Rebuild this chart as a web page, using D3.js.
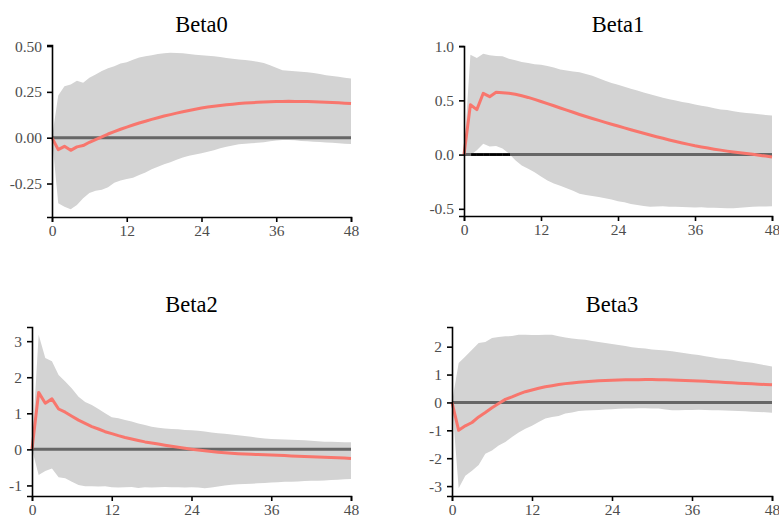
<!DOCTYPE html>
<html>
<head>
<meta charset="utf-8">
<script src="https://cdn.jsdelivr.net/npm/d3@7"></script>
<style>
  body { margin: 0; background: #fff; }
  text { font-family: "Liberation Serif", "Times New Roman", serif; }
</style>
</head>
<body>
<svg width="779" height="516"></svg>
<script>
// impulse responses, horizon 0..48
var horizon = d3.range(0, 49)
var xTicks = [0, 12, 24, 36, 48]

var beta0Mean = [0, -0.065, -0.047, -0.069, -0.05, -0.043, -0.025, -0.01, 0.005, 0.02,
  0.033, 0.046, 0.058, 0.069, 0.08, 0.09, 0.1, 0.109, 0.118, 0.126,
  0.134, 0.141, 0.148, 0.155, 0.162, 0.167, 0.172, 0.176, 0.18, 0.183,
  0.186, 0.189, 0.191, 0.193, 0.195, 0.196, 0.197, 0.198, 0.199, 0.198,
  0.198, 0.197, 0.196, 0.195, 0.194, 0.192, 0.19, 0.188, 0.186]
var beta0Upper = [0, 0.23, 0.28, 0.29, 0.31, 0.3, 0.327, 0.345, 0.364, 0.379,
  0.39, 0.405, 0.412, 0.425, 0.438, 0.444, 0.45, 0.457, 0.46, 0.463,
  0.462, 0.46, 0.457, 0.453, 0.45, 0.447, 0.444, 0.44, 0.435, 0.431,
  0.427, 0.424, 0.42, 0.414, 0.407, 0.395, 0.382, 0.368, 0.365, 0.363,
  0.36, 0.357, 0.353, 0.347, 0.341, 0.337, 0.332, 0.327, 0.323]
var beta0Lower = [0, -0.358, -0.377, -0.39, -0.367, -0.33, -0.302, -0.289, -0.284, -0.27,
  -0.246, -0.233, -0.226, -0.218, -0.203, -0.19, -0.172, -0.159, -0.145, -0.134,
  -0.121, -0.108, -0.098, -0.092, -0.085, -0.077, -0.068, -0.058, -0.05, -0.042,
  -0.036, -0.033, -0.03, -0.028, -0.025, -0.02, -0.016, -0.013, -0.012, -0.014,
  -0.018, -0.02, -0.022, -0.024, -0.026, -0.028, -0.03, -0.033, -0.035]
var beta0Ticks = [-0.25, 0, 0.25, 0.5]
var beta0Labels = ["-0.25", "0.00", "0.25", "0.50"]

var beta1Mean = [0, 0.46, 0.415, 0.565, 0.534, 0.575, 0.57, 0.565, 0.556, 0.542,
  0.527, 0.509, 0.49, 0.47, 0.45, 0.43, 0.41, 0.39, 0.37, 0.351,
  0.333, 0.315, 0.297, 0.28, 0.263, 0.246, 0.229, 0.213, 0.197, 0.181,
  0.165, 0.15, 0.135, 0.121, 0.107, 0.094, 0.081, 0.07, 0.06, 0.05,
  0.041, 0.032, 0.024, 0.017, 0.01, 0.003, -0.006, -0.014, -0.022]
var beta1Upper = [0, 0.92, 0.89, 0.93, 0.915, 0.91, 0.906, 0.884, 0.87, 0.853,
  0.844, 0.834, 0.828, 0.816, 0.803, 0.784, 0.775, 0.766, 0.76, 0.744,
  0.728, 0.703, 0.681, 0.66, 0.644, 0.625, 0.607, 0.59, 0.572, 0.557,
  0.541, 0.525, 0.51, 0.498, 0.486, 0.475, 0.463, 0.45, 0.44, 0.428,
  0.416, 0.41, 0.4, 0.39, 0.384, 0.378, 0.372, 0.366, 0.36]
var beta1Lower = [0, -0.005, 0.04, 0.1, 0.075, 0.08, 0.055, 0.01, -0.053, -0.1,
  -0.131, -0.163, -0.203, -0.24, -0.266, -0.288, -0.31, -0.334, -0.36, -0.372,
  -0.381, -0.39, -0.403, -0.413, -0.43, -0.44, -0.455, -0.465, -0.475, -0.48,
  -0.478, -0.476, -0.48, -0.482, -0.483, -0.485, -0.487, -0.485, -0.49, -0.49,
  -0.492, -0.495, -0.495, -0.49, -0.485, -0.48, -0.478, -0.478, -0.476]
var beta1Ticks = [-0.5, 0, 0.5, 1]
var beta1Labels = ["-0.5", "0.0", "0.5", "1.0"]

var beta2Mean = [0, 1.58, 1.28, 1.4, 1.12, 1.03, 0.92, 0.81, 0.72, 0.63,
  0.565, 0.49, 0.435, 0.38, 0.33, 0.287, 0.245, 0.207, 0.176, 0.148,
  0.115, 0.085, 0.058, 0.03, 0.005, -0.018, -0.04, -0.062, -0.08, -0.095,
  -0.108, -0.12, -0.13, -0.138, -0.145, -0.151, -0.157, -0.165, -0.173, -0.181,
  -0.19, -0.197, -0.204, -0.211, -0.218, -0.226, -0.234, -0.242, -0.25]
var beta2Upper = [0, 3.18, 2.53, 2.44, 2.06, 1.88, 1.69, 1.46, 1.31, 1.23,
  1.12, 1.0, 0.89, 0.86, 0.815, 0.77, 0.72, 0.676, 0.63, 0.6,
  0.58, 0.565, 0.556, 0.537, 0.53, 0.515, 0.495, 0.47, 0.444, 0.43,
  0.41, 0.39, 0.37, 0.35, 0.32, 0.3, 0.287, 0.28, 0.272, 0.265,
  0.26, 0.25, 0.24, 0.225, 0.213, 0.208, 0.203, 0.198, 0.194]
var beta2Lower = [0, -0.71, -0.6, -0.53, -0.77, -0.8, -0.9, -0.99, -1.02, -1.02,
  -1.03, -1.02, -1.05, -1.06, -1.05, -1.04, -1.07, -1.05, -1.06, -1.05,
  -1.04, -1.05, -1.05, -1.06, -1.05, -1.06, -1.08, -1.06, -1.03, -1.0,
  -0.98, -0.97, -0.96, -0.95, -0.94, -0.93, -0.92, -0.91, -0.9, -0.9,
  -0.89, -0.88, -0.87, -0.87, -0.86, -0.85, -0.84, -0.83, -0.82]
var beta2Ticks = [-1, 0, 1, 2, 3]
var beta2Labels = ["-1", "0", "1", "2", "3"]

var beta3Mean = [0, -1.0, -0.84, -0.72, -0.52, -0.36, -0.19, -0.04, 0.11, 0.2,
  0.3, 0.385, 0.446, 0.506, 0.56, 0.6, 0.64, 0.675, 0.7, 0.723,
  0.745, 0.76, 0.775, 0.788, 0.8, 0.805, 0.81, 0.815, 0.818, 0.82,
  0.82, 0.818, 0.815, 0.808, 0.8, 0.79, 0.78, 0.77, 0.76, 0.745,
  0.73, 0.718, 0.705, 0.692, 0.68, 0.668, 0.655, 0.642, 0.63]
var beta3Upper = [0, 1.41, 1.65, 1.89, 2.13, 2.17, 2.31, 2.35, 2.37, 2.38,
  2.43, 2.43, 2.42, 2.42, 2.43, 2.43, 2.37, 2.33, 2.29, 2.27,
  2.25, 2.2, 2.17, 2.13, 2.1, 2.06, 2.02, 1.98, 1.95, 1.93,
  1.9, 1.88, 1.86, 1.84, 1.8, 1.76, 1.73, 1.7, 1.66, 1.62,
  1.58, 1.56, 1.53, 1.49, 1.45, 1.42, 1.38, 1.33, 1.29]
var beta3Lower = [0, -3.08, -2.63, -2.45, -2.24, -1.84, -1.72, -1.54, -1.42, -1.24,
  -1.08, -0.94, -0.84, -0.7, -0.58, -0.52, -0.49, -0.4, -0.36, -0.31,
  -0.29, -0.28, -0.27, -0.25, -0.24, -0.23, -0.22, -0.22, -0.21, -0.21,
  -0.22, -0.22, -0.25, -0.28, -0.28, -0.27, -0.27, -0.26, -0.27, -0.28,
  -0.28, -0.29, -0.3, -0.31, -0.32, -0.33, -0.34, -0.35, -0.37]
var beta3Ticks = [-3, -2, -1, 0, 1, 2]
var beta3Labels = ["-3", "-2", "-1", "0", "1", "2"]

var svg = d3.select("svg")

// panel boxes (plot area in pixels)
var panels = [
  {title: "Beta0", mean: beta0Mean, lower: beta0Lower, upper: beta0Upper, ticks: beta0Ticks, labels: beta0Labels,
    left: 52, right: 351, top: 45, bottom: 217, titleY: 32},
  {title: "Beta1", mean: beta1Mean, lower: beta1Lower, upper: beta1Upper, ticks: beta1Ticks, labels: beta1Labels,
    left: 464, right: 772, top: 46, bottom: 216, titleY: 32},
  {title: "Beta2", mean: beta2Mean, lower: beta2Lower, upper: beta2Upper, ticks: beta2Ticks, labels: beta2Labels,
    left: 32, right: 351, top: 327, bottom: 496, titleY: 312},
  {title: "Beta3", mean: beta3Mean, lower: beta3Lower, upper: beta3Upper, ticks: beta3Ticks, labels: beta3Labels,
    left: 452, right: 772, top: 327, bottom: 496, titleY: 312}
]

panels.forEach(drawPanel)

function drawPanel(p) {
  var x = d3.scaleLinear().domain([0, 48]).range([p.left, p.right])

  // 5% expansion like ggplot
  var lo = d3.min(p.lower), hi = d3.max(p.upper)
  var pad = (hi - lo) * 0.05
  var y = d3.scaleLinear().domain([lo - pad, hi + pad]).range([p.bottom, p.top])

  var g = svg.append("g")

  var area = d3.area()
    .x(function(d, i) { return x(horizon[i]) })
    .y0(function(d, i) { return y(p.lower[i]) })
    .y1(function(d, i) { return y(p.upper[i]) })

  g.append("path")
    .datum(p.mean)
    .attr("d", area)
    .attr("fill", "#d3d3d3")

  g.append("line")
    .attr("x1", x(0)).attr("x2", x(48))
    .attr("y1", y(0)).attr("y2", y(0))
    .attr("stroke", "#666666")
    .attr("stroke-width", 3)

  // zero line shows black where the lower band is above zero
  for (var i = 0; i < horizon.length - 1; i++) {
    var a = p.lower[i], b = p.lower[i + 1]
    if (a <= 0 && b <= 0) continue
    var x0 = horizon[i], x1 = horizon[i + 1]
    if (a <= 0) x0 = horizon[i] + (0 - a) / (b - a)
    if (b <= 0) x1 = horizon[i] + (0 - a) / (b - a)
    g.append("line")
      .attr("x1", x(x0)).attr("x2", x(x1))
      .attr("y1", y(0)).attr("y2", y(0))
      .attr("stroke", "#000")
      .attr("stroke-width", 2.6)
  }

  var line = d3.line()
    .x(function(d, i) { return x(horizon[i]) })
    .y(function(d) { return y(d) })

  g.append("path")
    .datum(p.mean)
    .attr("d", line)
    .attr("fill", "none")
    .attr("stroke", "#F8766D")
    .attr("stroke-width", 3)
    .attr("stroke-linejoin", "round")

  g.append("g")
    .attr("transform", "translate(" + p.left + ",0)")
    .call(d3.axisLeft(y).tickValues(p.ticks).tickSizeOuter(0).tickSize(5).tickPadding(5)
      .tickFormat(function(d, i) { return p.labels[i] }))

  g.append("g")
    .attr("transform", "translate(0," + p.bottom + ")")
    .call(d3.axisBottom(x).tickValues(xTicks).tickSizeOuter(0).tickSize(5).tickPadding(3))

  g.selectAll(".domain, .tick line")
    .attr("stroke", "#000")
    .attr("stroke-width", 1.6)
  g.selectAll(".tick text")
    .attr("fill", "#4d4d4d")
    .attr("font-size", 15.5)

  g.append("text")
    .attr("x", (p.left + p.right) / 2)
    .attr("y", p.titleY)
    .attr("text-anchor", "middle")
    .attr("font-size", 22.5)
    .attr("fill", "#000")
    .text(p.title)
}
</script>
</body>
</html>
